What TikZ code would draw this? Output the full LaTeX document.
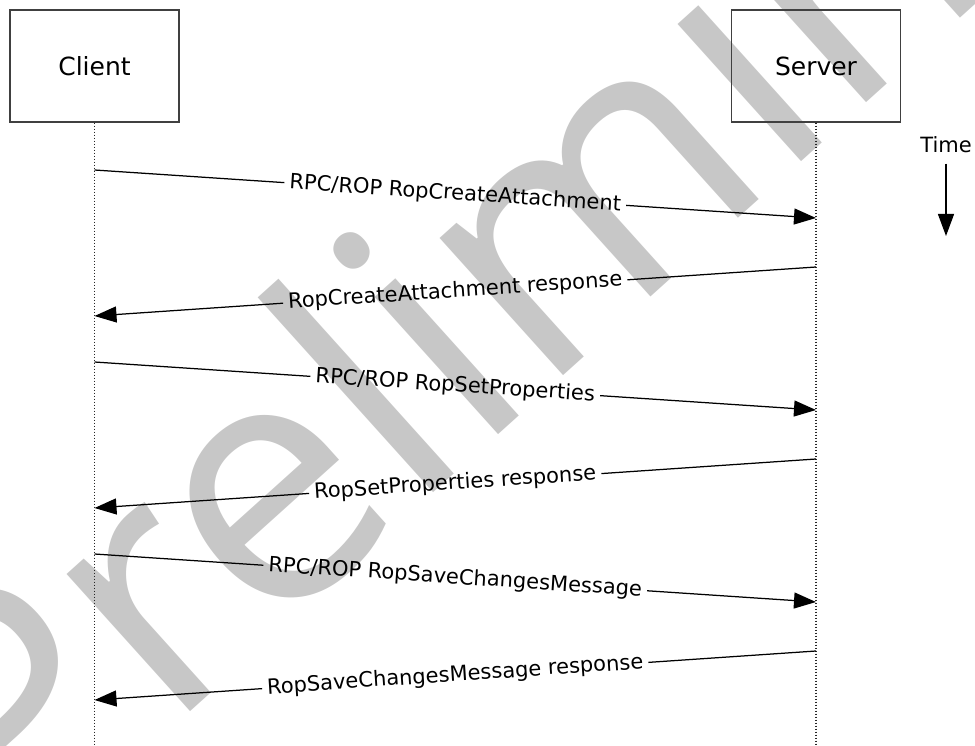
\documentclass[tikz,border=0pt]{standalone}
\usepackage{fontspec}
\setmainfont{DejaVu Sans}
\newfontfamily\markfont{Open Sans}
\usetikzlibrary{arrows.meta}

\begin{document}
\begin{tikzpicture}[x=1pt,y=-1pt,
        party/.style={draw=black!75, line width=1.4pt, minimum width=169pt, minimum height=112pt, font=\fontsize{25}{30}\selectfont},
        life/.style={black!85, line width=1.1pt, dash pattern=on 1.5pt off 1.5pt},
        msg/.style={sloped, inner xsep=5pt, inner ysep=0pt, font=\fontsize{21}{25}\selectfont},
        wire/.style={line width=1.25pt},
        tip/.style={-{Triangle[length=22pt,width=16pt]}}]
    \useasboundingbox (0,0) rectangle (975,746);
    \begin{scope}
        \clip (0,0) rectangle (975,746);
        \node[rotate=42, anchor=base west, inner sep=0pt, text=black!22, font=\markfont\fontsize{345}{345}\selectfont] (mark) at (13.6,870.8) {Preliminary};
    \end{scope}

    \node[party] (client) at (94.5,66) {Client};
    \node[party] (server) at (816,66) {Server};
    \coordinate (cend) at (94.5,746);
    \coordinate (send) at (816,746);
    \draw[life] (client.south) -- (cend);
    \draw[life] (server.south) -- (send);

    \node[font=\fontsize{21}{25}\selectfont] (time) at (946,145) {Time};
    \coordinate (tend) at (946,236);
    \draw[wire, tip, shorten <=7pt] (time.south) -- (tend);

    \coordinate (c1) at (94.5,170);  \coordinate (s1) at (816,218);
    \coordinate (c2) at (94.5,316);  \coordinate (s2) at (816,267);
    \coordinate (c3) at (94.5,362);  \coordinate (s3) at (816,410);
    \coordinate (c4) at (94.5,508);  \coordinate (s4) at (816,459);
    \coordinate (c5) at (94.5,554);  \coordinate (s5) at (816,602);
    \coordinate (c6) at (94.5,700);  \coordinate (s6) at (816,651);

    \path (c1) -- (s1) node[msg, midway] (m1) {RPC/ROP RopCreateAttachment};
    \draw[wire] (c1) -- (m1.west);
    \draw[wire, tip] (m1.east) -- (s1);

    \path (c2) -- (s2) node[msg, midway] (m2) {RopCreateAttachment response};
    \draw[wire] (s2) -- (m2.east);
    \draw[wire, tip] (m2.west) -- (c2);

    \path (c3) -- (s3) node[msg, midway] (m3) {RPC/ROP RopSetProperties};
    \draw[wire] (c3) -- (m3.west);
    \draw[wire, tip] (m3.east) -- (s3);

    \path (c4) -- (s4) node[msg, midway] (m4) {RopSetProperties response};
    \draw[wire] (s4) -- (m4.east);
    \draw[wire, tip] (m4.west) -- (c4);

    \path (c5) -- (s5) node[msg, midway] (m5) {RPC/ROP RopSaveChangesMessage};
    \draw[wire] (c5) -- (m5.west);
    \draw[wire, tip] (m5.east) -- (s5);

    \path (c6) -- (s6) node[msg, midway] (m6) {RopSaveChangesMessage response};
    \draw[wire] (s6) -- (m6.east);
    \draw[wire, tip] (m6.west) -- (c6);
\end{tikzpicture}
\end{document}
